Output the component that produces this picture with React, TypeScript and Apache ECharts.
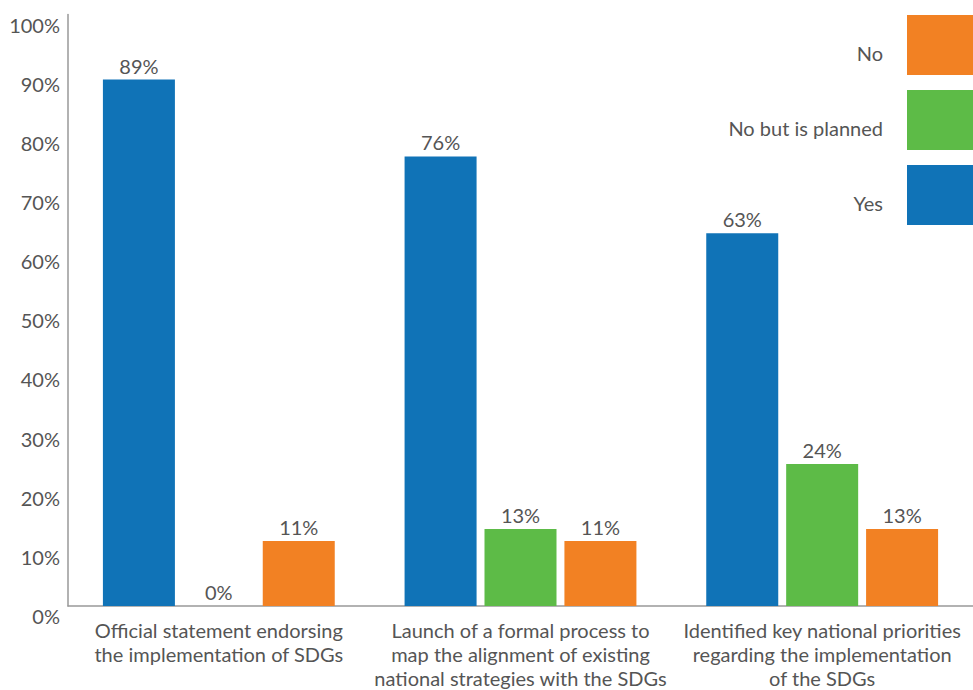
import React, { useEffect, useRef } from "react";
import * as echarts from "echarts";

const categories = [
  "Official statement endorsing\nthe implementation of SDGs",
  "Launch of a formal process to\nmap the alignment of existing\nnational strategies with the SDGs",
  "Identified key national priorities\nregarding the implementation\nof the SDGs",
];
const yesValues = [89, 76, 63];
const plannedValues = [0, 13, 24];
const noValues = [11, 11, 13];
const legendOrder = ["No", "No but is planned", "Yes"];

const FONT = "Lato";
const FS = 20;
const TEXT = "#555555";
const BLUE = "#1073b7";
const GREEN = "#5dbb47";
const ORANGE = "#f28123";

export default function App() {
  const ref = useRef<HTMLDivElement>(null);
  useEffect(() => {
    if (!ref.current) return;
    const chart = echarts.init(ref.current, undefined, { renderer: "svg" });
    const label = {
      show: true,
      position: "top",
      distance: 4,
      formatter: "{c}%",
      color: TEXT,
      fontSize: FS,
      fontFamily: FONT,
    };
    chart.setOption({
      animation: false,
      textStyle: { fontFamily: FONT },
      grid: { left: 68, right: 0, top: 14.5, bottom: 80, containLabel: false },
      legend: {
        data: legendOrder,
        orient: "vertical",
        right: 0,
        top: 15,
        padding: 0,
        align: "right",
        itemWidth: 66,
        itemHeight: 60,
        itemGap: 15,
        icon: "rect",
        formatter: (name: string) => `{t|${name}}`,
        textStyle: {
          color: TEXT,
          fontSize: FS,
          fontFamily: FONT,
          rich: {
            t: { color: TEXT, fontSize: FS, fontFamily: FONT, padding: [16, 19, 0, 0] },
          },
        },
      },
      xAxis: {
        type: "category",
        data: categories,
        axisTick: { show: false },
        axisLine: { lineStyle: { color: "#999999", width: 1.5 } },
        axisLabel: {
          color: TEXT,
          fontSize: FS,
          fontFamily: FONT,
          lineHeight: 24,
          margin: 12,
          interval: 0,
        },
      },
      yAxis: {
        type: "value",
        min: 0,
        max: 100,
        interval: 10,
        splitLine: { show: false },
        axisTick: { show: false },
        axisLine: { show: true, lineStyle: { color: "#999999", width: 1.5 } },
        axisLabel: {
          formatter: "{value}%",
          color: TEXT,
          fontSize: FS,
          fontFamily: FONT,
          margin: 8,
          verticalAlign: "top",
          lineHeight: 20,
        },
      },
      series: [
        { name: "Yes", type: "bar", data: yesValues, barWidth: 72, barGap: "11%", itemStyle: { color: BLUE }, label },
        { name: "No but is planned", type: "bar", data: plannedValues, barWidth: 72, barGap: "11%", itemStyle: { color: GREEN }, label },
        { name: "No", type: "bar", data: noValues, barWidth: 72, barGap: "11%", itemStyle: { color: ORANGE }, label },
      ],
    });
    return () => chart.dispose();
  }, []);
  return (
    <div
      ref={ref}
      style={{ position: "fixed", left: 0, top: 0, width: 973, height: 690, background: "#ffffff" }}
    />
  );
}
